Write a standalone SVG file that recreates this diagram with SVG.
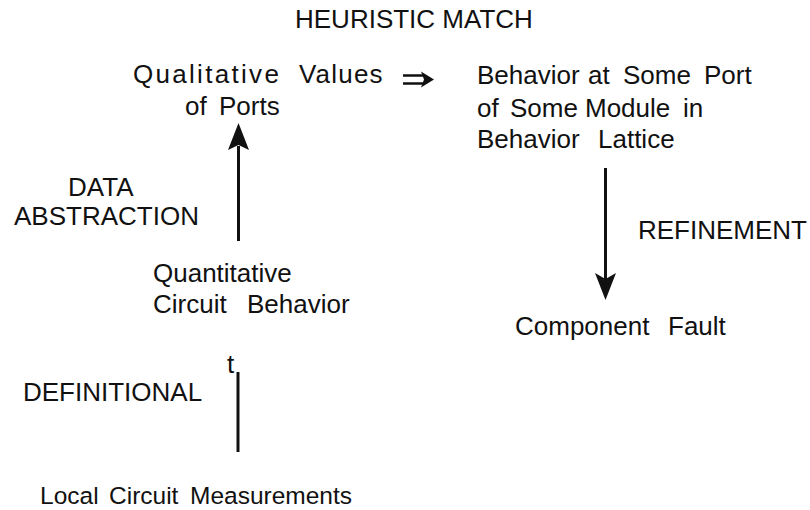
<svg xmlns="http://www.w3.org/2000/svg" width="810" height="510" viewBox="0 0 810 510">
<style>
text{font-family:"Liberation Sans",Arial,sans-serif;font-size:26px;fill:#111}
.sp{letter-spacing:2.3px}
.sm{font-size:24.5px}
.ln{stroke:#111;stroke-width:3;fill:none}
.hd{fill:#111;stroke:none}
</style>
<rect width="810" height="510" fill="#fff"/>
<g id="label-heuristic"><text x="295" y="28">HEURISTIC MATCH</text></g>
<g id="node-qualitative">
<text y="83"><tspan class="sp" x="133">Qualitative</tspan><tspan x="299" style="letter-spacing:1.2px">Values</tspan></text>
<text y="115"><tspan x="185">of</tspan><tspan x="219">Ports</tspan></text>
</g>
<g id="node-behavior">
<text y="84"><tspan x="477">Behavior</tspan><tspan x="588">at</tspan><tspan x="623">Some</tspan><tspan x="704">Port</tspan></text>
<text y="117"><tspan x="477">of</tspan><tspan x="510">Some</tspan><tspan x="585">Module</tspan><tspan x="683">in</tspan></text>
<text y="148"><tspan x="477">Behavior</tspan><tspan x="598">Lattice</tspan></text>
</g>
<g id="label-data-abstraction">
<text x="68" y="196">DATA</text>
<text x="14" y="225">ABSTRACTION</text>
</g>
<g id="node-quantitative">
<text x="153" y="282">Quantitative</text>
<text y="313"><tspan x="153">Circuit</tspan><tspan x="247">Behavior</tspan></text>
</g>
<g id="label-refinement"><text x="638" y="239">REFINEMENT</text></g>
<g id="node-component-fault">
<text y="335"><tspan x="515">Component</tspan><tspan x="668">Fault</tspan></text>
</g>
<g id="label-definitional">
<text x="23" y="401">DEFINITIONAL</text>
<text x="227" y="373">t</text>
</g>
<g id="node-local">
<text class="sm" y="504"><tspan x="40">Local</tspan><tspan x="109">Circuit</tspan><tspan x="190">Measurements</tspan></text>
</g>
<g id="connectors">
<line class="ln" x1="238.5" y1="241" x2="238.5" y2="146"/>
<path class="hd" d="M238.5,123 L249,150 L238.5,145 L228,150 Z"/>
<line class="ln" x1="605.5" y1="168" x2="605.5" y2="279"/>
<path class="hd" d="M605.5,300 L616,273 L605.5,279 L595,273 Z"/>
<line class="ln" x1="238" y1="372" x2="238" y2="452"/>
<path class="ln" style="stroke-width:2.6" d="M403,75.5 H425 M403,83.5 H425"/>
<path class="hd" d="M434,79.5 L421,71.5 L424,79.5 L421,87.5 Z"/>
</g>
</svg>
